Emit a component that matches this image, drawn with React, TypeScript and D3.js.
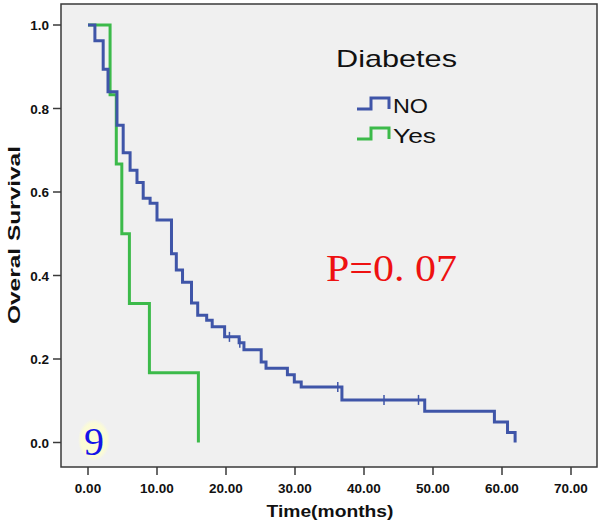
import React from "react";
import * as d3 from "d3";

const xTicks = [0, 10, 20, 30, 40, 50, 60, 70];
const yTicks = [0, 0.2, 0.4, 0.6, 0.8, 1.0];

const noTimes = [0, 1.0, 2.2, 2.9, 4.2, 5.1, 6.1, 7.1, 8.0, 9.0, 10.0, 12.1, 12.8, 13.7, 15.0, 15.9, 17.2, 18.0, 19.8, 21.9, 22.6, 25.1, 25.8, 28.9, 29.9, 30.9, 36.8, 48.8, 58.9, 60.8, 61.9];
const noSurv = [1.0, 0.962, 0.894, 0.84, 0.76, 0.694, 0.652, 0.623, 0.585, 0.573, 0.533, 0.452, 0.413, 0.384, 0.334, 0.305, 0.293, 0.277, 0.253, 0.239, 0.222, 0.193, 0.178, 0.162, 0.145, 0.133, 0.102, 0.075, 0.049, 0.024, 0];
const noCensorT = [20.5, 22.0, 36.2, 42.9, 47.9];
const noCensorS = [0.253, 0.239, 0.133, 0.102, 0.102];

const yesTimes = [0, 3.2, 4.1, 4.9, 6.0, 8.9, 16.0];
const yesSurv = [1.0, 0.833, 0.667, 0.5, 0.333, 0.167, 0];

const groups = ["NO", "Yes"];
const colors = ["#3f55a8", "#3cba4a"];

export default function App() {
  const W = 600, H = 526;
  const frame = { l: 61, r: 597, t: 4, b: 467 };
  const x = d3.scaleLinear().domain([0, 70]).range([88, 571]);
  const y = d3.scaleLinear().domain([0, 1]).range([442.5, 25]);
  const line = d3.line<[number, number]>().x(d => x(d[0])).y(d => y(d[1])).curve(d3.curveStepAfter);
  const noPts = noTimes.map((t, i) => [t, noSurv[i]] as [number, number]);
  const yesPts = yesTimes.map((t, i) => [t, yesSurv[i]] as [number, number]);
  const sans = "'Liberation Sans', Arial, sans-serif";
  const serif = "'Liberation Serif', 'Times New Roman', serif";

  return (
    <svg width={W} height={H} style={{ position: "absolute", left: 0, top: 0, background: "#fff" }}>
      <defs>
        <radialGradient id="glow">
          <stop offset="0%" stopColor="#fdfdd2" />
          <stop offset="80%" stopColor="#fbfbd6" />
          <stop offset="100%" stopColor="#f0f0f0" />
        </radialGradient>
      </defs>
      <rect x={frame.l} y={frame.t} width={frame.r - frame.l} height={frame.b - frame.t} fill="#f0f0f0" />
      {/* frame */}
      <rect x={frame.l} y={frame.t} width={frame.r - frame.l} height={frame.b - frame.t} fill="none" stroke="#3a3a3a" strokeWidth={1.5} />
      {/* y ticks */}
      {yTicks.map(v => (
        <g key={"y" + v}>
          <line x1={frame.l - 8} x2={frame.l} y1={y(v)} y2={y(v)} stroke="#3a3a3a" strokeWidth={1.5} />
          <text x={49} y={y(v) + 5} textAnchor="end" fontFamily={sans} fontWeight="bold" fontSize={13.5} fill="#111">{v.toFixed(1)}</text>
        </g>
      ))}
      {/* x ticks */}
      {xTicks.map(v => (
        <g key={"x" + v}>
          <line x1={x(v)} x2={x(v)} y1={frame.b} y2={frame.b + 8} stroke="#3a3a3a" strokeWidth={1.5} />
          <text x={x(v)} y={493} textAnchor="middle" fontFamily={sans} fontWeight="bold" fontSize={13.5} fill="#111">{v.toFixed(2)}</text>
        </g>
      ))}
      <text x={330} y={517} textAnchor="middle" fontFamily={sans} fontWeight="bold" fontSize={17} textLength={127} lengthAdjust="spacingAndGlyphs" fill="#111">Time(months)</text>
      <text transform={`translate(20,235) rotate(-90)`} textAnchor="middle" fontFamily={sans} fontWeight="bold" fontSize={16} textLength={178} lengthAdjust="spacingAndGlyphs" fill="#111">Overal Survival</text>

      {/* curves */}
      <path d={line(yesPts) || ""} fill="none" stroke={colors[1]} strokeWidth={3} />
      <path d={line(noPts) || ""} fill="none" stroke={colors[0]} strokeWidth={3} />
      {noCensorT.map((t, i) => (
        <line key={"c" + i} x1={x(t)} x2={x(t)} y1={y(noCensorS[i]) - 5} y2={y(noCensorS[i]) + 5} stroke={colors[0]} strokeWidth={1.5} />
      ))}

      {/* legend */}
      <text x={336} y={67} fontFamily={sans} fontSize={24} textLength={121} lengthAdjust="spacingAndGlyphs" fill="#111">Diabetes</text>
      {groups.map((g, i) => {
        const by = 109 + i * 30;
        return (
          <g key={g}>
            <path d={`M357,${by} H371 V${by - 11} H389 V${by}`} fill="none" stroke={colors[i]} strokeWidth={3} />
            <text x={393} y={by + 4} fontFamily={sans} fontSize={20} textLength={i === 0 ? 35 : 43} lengthAdjust="spacingAndGlyphs" fill="#111">{g}</text>
          </g>
        );
      })}

      {/* P value */}
      <text x={326} y={281} fontFamily={serif} fontSize={38} textLength={131} lengthAdjust="spacingAndGlyphs" fill="#ee1111">P=0. 07</text>

      {/* panel label */}
      <ellipse cx={94} cy={440} rx={16} ry={21} fill="url(#glow)" />
      <text x={94} y={455} textAnchor="middle" fontFamily={serif} fontSize={40} fill="#1515e8">9</text>
    </svg>
  );
}
